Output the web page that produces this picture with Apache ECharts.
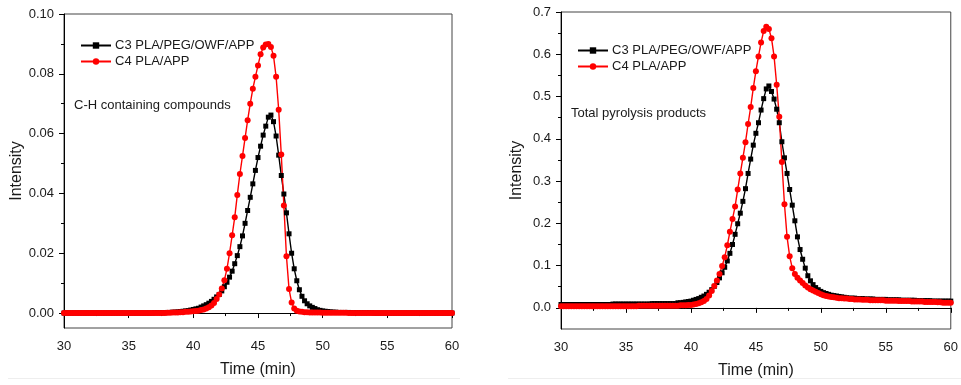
<!DOCTYPE html>
<html>
<head>
<meta charset="utf-8">
<script src="https://cdn.jsdelivr.net/npm/echarts@6/dist/echarts.min.js"></script>
<style>
  html, body { margin: 0; padding: 0; background: #fff; }
  #chart { width: 961px; height: 385px; }
</style>
</head>
<body>
<div id="chart"></div>
<script>
// sampling grid: one reading every 0.2 min from 30 to 60 min
const timeStart = 30
const timeStep = 0.2

const seriesNames = ['C3 PLA/PEG/OWF/APP', 'C4 PLA/APP']
const panelNotes = ['C-H containing compounds', 'Total pyrolysis products']

// left panel, C-H containing compounds (one row = one minute)
const chC3 = [
  0, 0, 0, 0, 0,                                // 30
  0, 0, 0, 0, 0,
  0, 0, 0, 0, 0,
  0, 0, 0, 0, 0,
  0, 0, 0, 0, 0,
  0, 0, 0, 0, 0,                                // 35
  0, 0, 0, 0, 0,
  0.0001, 0.0001, 0.0001, 0.0001, 0.0001,
  0.0002, 0.0002, 0.0003, 0.0003, 0.0004,
  0.0005, 0.0006, 0.0007, 0.0008, 0.0010,
  0.0012, 0.0014, 0.0016, 0.0020, 0.0024,       // 40
  0.0028, 0.0033, 0.0039, 0.0046, 0.0054,
  0.0062, 0.0074, 0.0088, 0.0103, 0.0120,
  0.0140, 0.0165, 0.0192, 0.0222, 0.0258,
  0.0300, 0.0343, 0.0387, 0.0432, 0.0477,
  0.0520, 0.0558, 0.0595, 0.0625, 0.0655,       // 45
  0.0662, 0.0640, 0.0592, 0.0528, 0.0460,
  0.0398, 0.0335, 0.0265, 0.0200, 0.0148,
  0.0108, 0.0078, 0.0056, 0.0041, 0.0031,
  0.0024, 0.0019, 0.0015, 0.0011, 0.0009,
  0.0007, 0.0006, 0.0005, 0.0004, 0.0003,       // 50
  0.0003, 0.0002, 0.0002, 0.0002, 0.0002,
  0.0002, 0.0001, 0.0001, 0.0001, 0.0001,
  0.0001, 0.0001, 0.0001, 0.0001, 0.0001,
  0, 0, 0, 0, 0,
  0, 0, 0, 0, 0,                                // 55
  0, 0, 0, 0, 0,
  0, 0, 0, 0, 0,
  0, 0, 0, 0, 0,
  0, 0, 0, 0, 0,
  0                                             // 60
]
const chC4 = [
  0, 0, 0, 0, 0,                                // 30
  0, 0, 0, 0, 0,
  0, 0, 0, 0, 0,
  0, 0, 0, 0, 0,
  0, 0, 0, 0, 0,
  0, 0, 0, 0, 0,                                // 35
  0, 0, 0, 0, 0,
  0, 0, 0, 0, 0,
  0.0001, 0.0001, 0.0002, 0.0002, 0.0002,
  0.0003, 0.0003, 0.0004, 0.0004, 0.0005,
  0.0006, 0.0007, 0.0008, 0.0010, 0.0012,       // 40
  0.0015, 0.0019, 0.0025, 0.0034, 0.0047,
  0.0062, 0.0082, 0.0110, 0.0148, 0.0200,
  0.0260, 0.0320, 0.0395, 0.0465, 0.0525,
  0.0585, 0.0645, 0.0700, 0.0750, 0.0790,
  0.0828, 0.0865, 0.0888, 0.0898, 0.0900,       // 45
  0.0890, 0.0860, 0.0790, 0.0680, 0.0530,
  0.0360, 0.0190, 0.0080, 0.0035, 0.0015,
  0.0008, 0.0005, 0.0004, 0.0003, 0.0003,
  0.0002, 0.0002, 0.0002, 0.0002, 0.0002,
  0.0001, 0.0001, 0.0001, 0.0001, 0.0001,       // 50
  0.0001, 0.0001, 0.0001, 0.0001, 0.0001,
  0, 0, 0, 0, 0,
  0, 0, 0, 0, 0,
  0, 0, 0, 0, 0,
  0, 0, 0, 0, 0,                                // 55
  0, 0, 0, 0, 0,
  0, 0, 0, 0, 0,
  0, 0, 0, 0, 0,
  0, 0, 0, 0, 0,
  0                                             // 60
]

// right panel, total pyrolysis products
const totalC3 = [
  0.008, 0.008, 0.008, 0.008, 0.008,            // 30
  0.008, 0.008, 0.008, 0.008, 0.008,
  0.008, 0.008, 0.008, 0.008, 0.008,
  0.008, 0.008, 0.008, 0.008, 0.008,
  0.009, 0.009, 0.009, 0.009, 0.009,
  0.009, 0.009, 0.009, 0.009, 0.009,            // 35
  0.009, 0.009, 0.009, 0.009, 0.009,
  0.010, 0.010, 0.010, 0.010, 0.010,
  0.010, 0.010, 0.010, 0.010, 0.010,
  0.012, 0.012, 0.013, 0.014, 0.015,
  0.016, 0.018, 0.020, 0.022, 0.025,            // 40
  0.028, 0.032, 0.037, 0.043, 0.051,
  0.060, 0.071, 0.083, 0.096, 0.111,
  0.129, 0.150, 0.174, 0.199, 0.224,
  0.252, 0.282, 0.318, 0.352, 0.385,
  0.413, 0.438, 0.468, 0.495, 0.518,            // 45
  0.525, 0.512, 0.494, 0.470, 0.438,
  0.393, 0.355, 0.318, 0.280, 0.243,
  0.206, 0.168, 0.138, 0.115, 0.094,
  0.076, 0.064, 0.055, 0.048, 0.043,
  0.039, 0.036, 0.034, 0.032, 0.030,            // 50
  0.029, 0.028, 0.027, 0.026, 0.025,
  0.024, 0.023, 0.023, 0.023, 0.022,
  0.022, 0.022, 0.021, 0.021, 0.021,
  0.021, 0.020, 0.020, 0.020, 0.020,
  0.020, 0.019, 0.019, 0.019, 0.019,            // 55
  0.019, 0.018, 0.018, 0.018, 0.018,
  0.018, 0.018, 0.017, 0.017, 0.017,
  0.017, 0.017, 0.017, 0.016, 0.016,
  0.016, 0.016, 0.016, 0.016, 0.016,
  0.016                                         // 60
]
const totalC4 = [
  0.004, 0.004, 0.004, 0.004, 0.004,            // 30
  0.004, 0.004, 0.004, 0.004, 0.004,
  0.004, 0.004, 0.004, 0.004, 0.004,
  0.004, 0.004, 0.004, 0.004, 0.004,
  0.004, 0.004, 0.004, 0.004, 0.004,
  0.004, 0.004, 0.004, 0.004, 0.004,            // 35
  0.005, 0.005, 0.005, 0.005, 0.005,
  0.005, 0.005, 0.005, 0.005, 0.005,
  0.005, 0.005, 0.005, 0.005, 0.005,
  0.005, 0.006, 0.006, 0.006, 0.007,
  0.007, 0.008, 0.009, 0.011, 0.013,            // 40
  0.016, 0.021, 0.029, 0.040, 0.052,
  0.065, 0.080, 0.099, 0.120, 0.148,
  0.180, 0.210, 0.240, 0.280, 0.318,
  0.355, 0.392, 0.435, 0.475, 0.520,
  0.560, 0.595, 0.628, 0.655, 0.665,            // 45
  0.660, 0.638, 0.595, 0.528, 0.452,
  0.345, 0.245, 0.168, 0.122, 0.094,
  0.080, 0.071, 0.065, 0.059, 0.053,
  0.048, 0.044, 0.041, 0.038, 0.035,
  0.032, 0.030, 0.028, 0.027, 0.026,            // 50
  0.025, 0.024, 0.023, 0.023, 0.022,
  0.022, 0.021, 0.021, 0.020, 0.020,
  0.020, 0.019, 0.019, 0.019, 0.018,
  0.018, 0.018, 0.018, 0.018, 0.018,
  0.017, 0.017, 0.017, 0.017, 0.017,            // 55
  0.016, 0.016, 0.016, 0.016, 0.016,
  0.015, 0.015, 0.015, 0.015, 0.015,
  0.014, 0.014, 0.014, 0.014, 0.014,
  0.013, 0.013, 0.012, 0.012, 0.012,
  0.012                                         // 60
]

const xTicks = [30, 35, 40, 45, 50, 55, 60]
const chTicks = [0, 0.02, 0.04, 0.06, 0.08, 0.10]
const chMinorTicks = [0.01, 0.03, 0.05, 0.07, 0.09]
const totalTicks = [0, 0.1, 0.2, 0.3, 0.4, 0.5, 0.6, 0.7]
const totalMinorTicks = [0.05, 0.15, 0.25, 0.35, 0.45, 0.55, 0.65]

const FONT = 'Liberation Sans, Arial, sans-serif'
const TEXT = '#1a1a1a'

const toPoints = (values) => values.map((v, i) => [timeStart + i * timeStep, v])

const chart = echarts.init(document.getElementById('chart'), null, { renderer: 'canvas' })

const grids = [
  { left: 64, top: 14, width: 388, height: 314 },
  { left: 561, top: 12, width: 393, height: 317 }
]

const xAxisFor = (gridIndex) => ({
  gridIndex,
  type: 'value',
  min: 30,
  max: 60,
  interval: 5,
  name: 'Time (min)',
  nameLocation: 'middle',
  nameGap: 34,
  nameTextStyle: { fontFamily: FONT, fontSize: 16, color: TEXT },
  axisLine: { show: true, lineStyle: { color: '#000', width: 1 } },
  axisTick: { show: true, length: 5, customValues: xTicks, lineStyle: { color: '#000' } },
  minorTick: { show: true, splitNumber: 2, length: 3, lineStyle: { color: '#000' } },
  axisLabel: { fontFamily: FONT, fontSize: 13, color: TEXT, margin: 12, customValues: xTicks },
  splitLine: { show: false }
})

const yAxisFor = (gridIndex, min, max, ticks, digits, nameGap) => ({
  gridIndex,
  type: 'value',
  min,
  max,
  name: 'Intensity',
  nameLocation: 'middle',
  nameRotate: 90,
  nameGap,
  nameTextStyle: { fontFamily: FONT, fontSize: 16, color: TEXT },
  axisLine: { show: true, lineStyle: { color: '#000', width: 1 } },
  axisTick: { show: true, length: 5, customValues: ticks, lineStyle: { color: '#000' } },
  axisLabel: {
    fontFamily: FONT, fontSize: 13, color: TEXT, margin: 10,
    customValues: ticks,
    formatter: (v) => Number(v).toFixed(digits)
  },
  splitLine: { show: false }
})

// extra axis only for the short minor ticks
const minorYAxisFor = (gridIndex, min, max, ticks) => ({
  gridIndex,
  type: 'value',
  min,
  max,
  position: 'left',
  axisLine: { show: false },
  axisTick: { show: true, length: 3, customValues: ticks, lineStyle: { color: '#000' } },
  axisLabel: { show: false },
  splitLine: { show: false }
})

const lineSeries = (name, values, xi, yi, color, symbol, size) => ({
  name,
  type: 'line',
  xAxisIndex: xi,
  yAxisIndex: yi,
  data: toPoints(values),
  symbol,
  symbolSize: size,
  showSymbol: true,
  lineStyle: { color, width: 1.4 },
  itemStyle: { color, borderWidth: 0 },
  emphasis: { disabled: true },
  animation: false
})

const legendFor = (left, top) => ({
  left,
  top,
  orient: 'vertical',
  itemWidth: 30,
  itemHeight: 8,
  itemGap: 3,
  data: seriesNames,
  textStyle: { fontFamily: FONT, fontSize: 13, color: TEXT, padding: [0, 0, 0, -1], lineHeight: 13 },
  selectedMode: false
})

chart.setOption({
  backgroundColor: '#fff',
  animation: false,
  grid: grids.map((g) => ({ ...g, show: true, borderColor: '#444', borderWidth: 1, backgroundColor: 'transparent' })),
  xAxis: [xAxisFor(0), xAxisFor(1)],
  yAxis: [
    yAxisFor(0, -0.005, 0.1, chTicks, 2, 39),
    yAxisFor(1, -0.05, 0.7, totalTicks, 1, 36),
    minorYAxisFor(0, -0.005, 0.1, chMinorTicks),
    minorYAxisFor(1, -0.05, 0.7, totalMinorTicks)
  ],
  legend: [legendFor(75, 34), legendFor(572, 39)],
  series: [
    lineSeries(seriesNames[0], chC3, 0, 0, '#000', 'rect', 5),
    lineSeries(seriesNames[1], chC4, 0, 0, '#f00', 'circle', 6),
    lineSeries(seriesNames[0], totalC3, 1, 1, '#000', 'rect', 5),
    lineSeries(seriesNames[1], totalC4, 1, 1, '#f00', 'circle', 6)
  ],
  graphic: [
    { type: 'text', left: 74, top: 99, style: { text: panelNotes[0], font: '13px ' + FONT, fill: TEXT } },
    { type: 'text', left: 571, top: 107, style: { text: panelNotes[1], font: '13px ' + FONT, fill: TEXT } },
    { type: 'line', shape: { x1: 8, y1: 378.5, x2: 460, y2: 378.5 }, style: { stroke: '#eeeeee', lineWidth: 1 } },
    { type: 'line', shape: { x1: 508, y1: 378.5, x2: 961, y2: 378.5 }, style: { stroke: '#eeeeee', lineWidth: 1 } }
  ]
})
</script>
</body>
</html>
